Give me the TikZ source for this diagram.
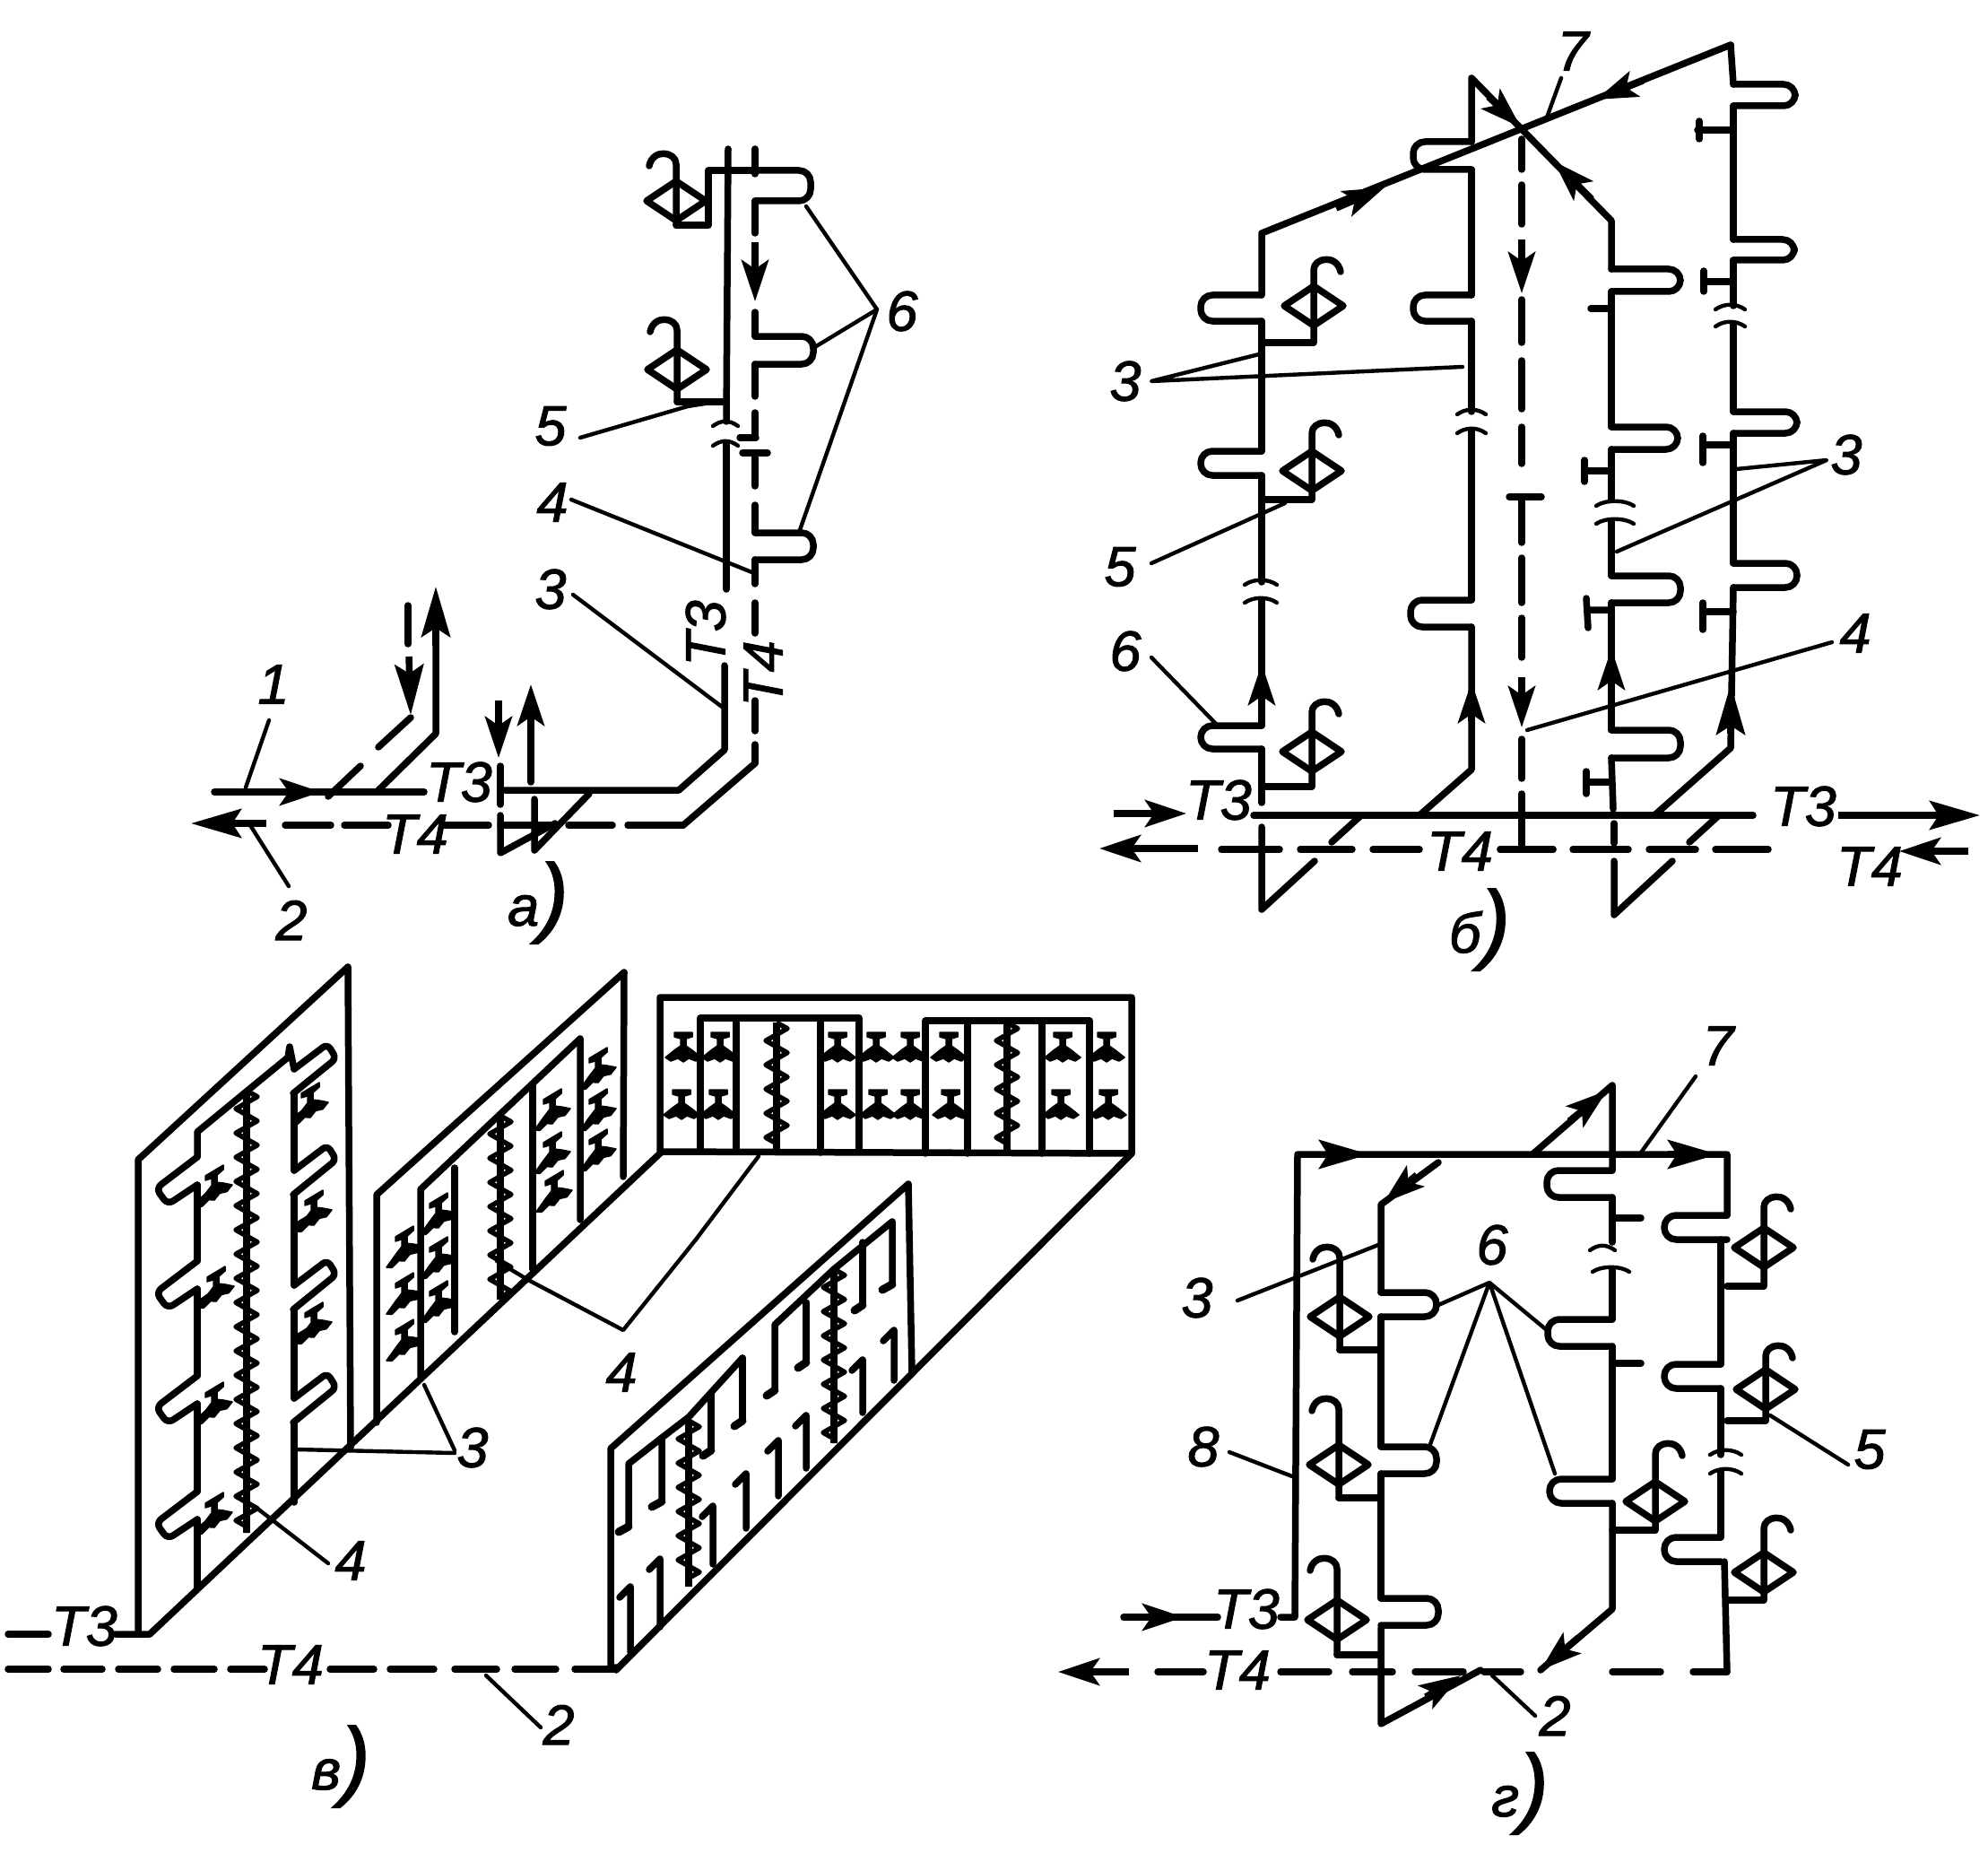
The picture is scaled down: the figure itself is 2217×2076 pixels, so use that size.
\documentclass[tikz,border=0pt]{standalone}
\usepackage{fontspec}
\setmainfont[ItalicFeatures={FakeBold=1.6}]{Liberation Sans}
\usetikzlibrary{arrows.meta,decorations.pathmorphing}
\newcommand\lb[3]{\node[lbl] (n-#1-#2) at (#1,#2) {#3};}
\newcommand\lbr[3]{\node[lbl,rotate=90] (n-#1-#2) at (#1,#2) {#3};}
\newcommand\figcap[3]{\node[lbl,anchor=base] (n-#1-#2) at (#1,#2) {#3{\fontsize{98}{98}\selectfont)}};}
\newcommand\hseg[2]{\foreach \a/\b in {#2} \draw[pipe] (\a,#1)--(\b,#1);}
\newcommand\vseg[2]{\foreach \a/\b in {#2} \draw[pipe] (#1,\a)--(#1,\b);}
\newcommand\rad[4]{\draw[pipe,rounded corners=13pt] (#1,#2)--(#4,#2)--(#4,#3)--(#1,#3);}
% valve: x, y, side of the hook, top, bottom
\newcommand\vlv[5]{\draw[pipe] (#1-33,#2)--(#1,#2-22)--(#1+33,#2)--(#1,#2+22)--cycle;
 \draw[pipe] (#1,#5)--(#1,#4+14) .. controls (#1,#4) and (#1+#3*26,#4-4) .. (#1+#3*30,#4+16);}
\newcommand\brkk[3]{\draw[lead] (#1,#3+3) .. controls (#1+10,#3-4) and (#2-10,#3-4) .. (#2,#3+3);}
\newcommand\tapp[3]{\fill[tapf,shift={(#1,#2)},yslant=#3] (-10,-18)--(10,-18)--(10,-13)--(3,-11)--(3,-3)--(10,2)--(20,10)--(14,14)--(6,11)--(0,15)--(-6,11)--(-14,14)--(-20,10)--(-10,2)--(-3,-3)--(-3,-11)--(-10,-13)--cycle;}
\newcommand\zigg[4]{\draw[line width=8pt] (#1,#2)--(#3,#4);
 \draw[line width=5.5pt,line join=round,decorate,decoration={zigzag,segment length=27pt,amplitude=12pt}] (#1,#2)--(#3,#4);}
\newcommand\radl[1]{\draw[pipe,rounded corners=7pt] (220,#1)--(174,#1+35)--(187,#1+53)--(220,#1+31);}
\newcommand\radr[1]{\draw[pipe,rounded corners=6pt] (328,#1)--(365,#1-28)--(375,#1-12)--(327,#1+27);}
\tikzset{
 pipe/.style={line width=7.5pt,line cap=round,line join=round},
 lead/.style={line width=4.4pt,line cap=round,line join=round},
 arr/.style={line width=7.5pt,-{Stealth[length=56pt,width=32pt,inset=10pt]}},
 arrs/.style={line width=7.5pt,-{Stealth[length=46pt,width=30pt,inset=10pt]}},
 lbl/.style={font=\fontsize{63}{63}\selectfont\itshape,inner sep=0pt},
 tapf/.style={fill=black,line join=round,draw=black,line width=1.5pt},
}
\begin{document}
\begin{tikzpicture}[x=1pt,y=-1pt]
\useasboundingbox (0,0) rectangle (2217,2076);
\fill[white] (0,0) rectangle (2217,2076);
% ---------- panel a
\draw[pipe] (239,883)--(473,883);
\draw[pipe] (563,881)--(757,881)--(808,836)--(808,742);
\draw[pipe] (810,657)--(810,495);
\draw[pipe] (810,470)--(812,166);
\brkk{795}{823}{472}\brkk{795}{823}{494}
\draw[arrs] (296,883)--(358,883);
\hseg{920}{762/700,683/634,619/558,545/496,433/384,369/318}
\draw[pipe] (842,851)--(762,920);
\draw[arr] (297,918)--(213,918);
\vseg{842}{166/194,224/260,348/375,406/442,460/488,509/542,563/594,624/651,672/706,781/815,830/851}
\draw[arrs] (842,270)--(842,336);
\draw[pipe] (828,505)--(856,505); \draw[pipe] (825,488)--(843,488);
\draw[pipe] (422,881)--(486,818)--(486,700);
\draw[arr] (486,720)--(486,654);
\draw[pipe] (366,888)--(402,854); \draw[pipe] (422,833)--(458,800);
\draw[pipe] (455,675)--(455,718);
\draw[arr] (456,732)--(458,797);
\draw[pipe] (558,854)--(558,897); \draw[pipe] (558,909)--(558,951)--(619,918);
\draw[arrs] (556,781)--(556,845);
\draw[pipe] (596,891)--(596,948)--(657,885);
\draw[pipe] (592,872)--(592,800);
\draw[arrs] (592,825)--(592,763);
\rad{842}{190}{224}{904}\rad{842}{375}{406}{907}\rad{842}{594}{624}{907}
\draw[pipe] (754,251)--(790,251)--(790,190)--(842,190);
\vlv{754}{224}{-1}{169}{251}
\vlv{755}{412}{-1}{354}{448}
\draw[pipe] (755,448)--(810,448);
\draw[lead] (647,488)--(767,453)--(805,447);
\draw[lead] (637,557)--(841,639);
\draw[lead] (639,663)--(805,788);
\draw[lead] (899,230)--(978,345)--(907,388);
\draw[lead] (978,345)--(892,591);
\draw[lead] (300,803)--(274,878);
\draw[lead] (279,920)--(322,988);
\lb{305}{763}{1}\lb{325}{1026}{2}\lb{614}{475}{5}\lb{616}{560}{4}\lb{614}{657}{3}\lb{1006}{347}{6}
\lb{512}{872}{Т3}\lb{463}{930}{Т4}
\lbr{787}{706}{Т3}\lbr{851}{751}{Т4}
\figcap{600}{1032}{а}
% ---------- panel b
\draw[pipe] (1398,909)--(1955,909);
\draw[arrs] (1242,907)--(1323,907);
\draw[arr] (2050,909)--(2208,909);
\draw[arrs] (1336,946)--(1226,946);
\draw[arrs] (2195,949)--(2118,949);
\hseg{947}{1362/1427,1450/1508,1531/1583,1673/1732,1754/1816,1839/1891,1913/1972}
% riser 1
\draw[pipe] (1407,922)--(1407,1014)--(1466,960); \draw[pipe] (1485,939)--(1518,909);
\draw[pipe] (1407,895)--(1407,835);\draw[pipe] (1407,809)--(1407,669);\draw[pipe] (1407,649)--(1407,530);\draw[pipe] (1407,503)--(1407,358);
\draw[pipe] (1407,329)--(1407,260)--(1930,50);
\rad{1407}{809}{835}{1339}\rad{1407}{503}{530}{1339}\rad{1407}{329}{358}{1339}
\brkk{1388}{1424}{649}\brkk{1388}{1424}{669}
\draw[arrs] (1407,790)--(1407,740);
\draw[arrs] (1490,232)--(1544,209);
\draw[arrs] (1832,90)--(1780,111);
% riser 2
\draw[pipe] (1583,909)--(1641,858)--(1641,699);\draw[pipe] (1641,669)--(1641,480);\draw[pipe] (1641,459)--(1641,358);\draw[pipe] (1641,329)--(1641,189);\draw[pipe] (1641,158)--(1641,87)--(1797,246)--(1797,300);
\rad{1641}{669}{699}{1573}\rad{1641}{329}{358}{1576}\rad{1641}{158}{189}{1576}
\brkk{1625}{1657}{459}\brkk{1625}{1657}{480}
\draw[arrs] (1641,804)--(1641,760);
\draw[arrs] (1660,108)--(1696,142);
\draw[arrs] (1775,222)--(1733,180);
% riser 3
\draw[pipe] (1797,325)--(1797,476);\draw[pipe] (1797,501)--(1797,557);\draw[pipe] (1797,581)--(1797,642);\draw[pipe] (1797,672)--(1797,814);\draw[pipe] (1797,845)--(1799,902);
\rad{1797}{300}{325}{1874}\rad{1797}{476}{501}{1871}\rad{1797}{642}{672}{1874}\rad{1797}{814}{845}{1874}
\brkk{1780}{1822}{561}\brkk{1780}{1822}{581}
\draw[arrs] (1797,775)--(1797,723);
\draw[pipe] (1800,918)--(1800,940);\draw[pipe] (1800,960)--(1800,1020)--(1865,960);\draw[pipe] (1884,939)--(1917,909);
\draw[pipe] (1774,344)--(1797,344);
\draw[pipe] (1797,525)--(1767,525)(1767,513)--(1767,537);
\draw[pipe] (1797,680)--(1770,680)(1769,667)--(1771,700);
\draw[pipe] (1797,872)--(1769,872)(1769,860)--(1769,885);
% riser 4
\draw[pipe] (1930,50)--(1933,94);\draw[pipe] (1933,118)--(1933,267);\draw[pipe] (1933,290)--(1933,341);\draw[pipe] (1933,361)--(1933,459);\draw[pipe] (1933,483)--(1933,628);\draw[pipe] (1933,655)--(1930,834)--(1845,909);
\rad{1933}{94}{118}{2002}\rad{1933}{267}{290}{2001}\rad{1933}{459}{483}{2004}\rad{1933}{628}{655}{2004}
\brkk{1913}{1946}{342}\brkk{1913}{1946}{361}
\draw[arr] (1930,818)--(1930,763);
\draw[pipe] (1893,145)--(1933,145)(1895,135)--(1895,155);
\draw[pipe] (1900,314)--(1933,314)(1900,302)--(1900,325);
\draw[pipe] (1899,496)--(1933,496)(1899,486)--(1899,516);
\draw[pipe] (1899,682)--(1933,682)(1899,672)--(1899,702);
% central
\vseg{1697}{155/189,206/250,334/382,402/456,476/517,554/605,622/672,689/733,824/868,885/947}
\draw[pipe] (1683,554)--(1719,554);
\draw[pipe] (1673,947)--(1732,947);
\draw[arrs] (1697,267)--(1697,327);
\draw[arrs] (1697,755)--(1697,811);
% valves
\vlv{1465}{341}{1}{287}{382}\draw[pipe] (1465,382)--(1407,382);
\vlv{1463}{525}{1}{469}{557}\draw[pipe] (1463,557)--(1407,557);
\vlv{1463}{838}{1}{780}{877}\draw[pipe] (1463,877)--(1407,877);
% leaders
\draw[lead] (1404,395)--(1284,425)--(1631,409);
\draw[lead] (1284,628)--(1433,561);
\draw[lead] (1284,733)--(1356,807);
\draw[lead] (1741,87)--(1725,131);
\draw[lead] (1936,523)--(2037,513)--(1803,615);
\draw[lead] (2043,716)--(1703,814);
\lb{1255}{425}{3}\lb{1249}{632}{5}\lb{1255}{726}{6}\lb{1754}{57}{7}\lb{2059}{507}{3}\lb{2069}{706}{4}
\lb{1359}{892}{Т3}\lb{1628}{949}{Т4}\lb{2011}{899}{Т3}\lb{2085}{966}{Т4}
\figcap{1650}{1062}{б}
% ---------- panel v: left wall
\draw[pipe] (154,1822)--(154,1293)--(388,1078)--(391,1614);
\draw[pipe] (129,1822)--(167,1822)--(737,1285);
\hseg{1822}{9/54}
\hseg{1861}{9/54,71/114,132/176,194/239,257/295,368/417,435/484,507/554,574/620,641/687}
\draw[pipe] (687,1862)--(1262,1286);
\radl{1663}\radl{1534}\radl{1406}\radl{1290}
\vseg{220}{1770/1694,1663/1565,1534/1437,1406/1321}
\draw[pipe] (220,1290)--(220,1262)--(321,1179)--(323,1167)--(328,1192);
\radr{1192}\radr{1305}\radr{1433}\radr{1559}
\vseg{328}{1219/1305,1332/1433,1460/1559,1586/1675}
\zigg{275}{1216}{275}{1709}
\foreach \x/\y in {239/1323,241/1436,239/1565,239/1688}{\draw[pipe] (224,\y+16)--(\x,\y+4);\tapp{\x}{\y}{0.6}}
\foreach \x/\y in {346/1231,350/1351,350/1476}{\draw[pipe] (330,\y+16)--(\x,\y+4);\tapp{\x}{\y}{0.6}}
\draw[lead] (507,1620)--(330,1616);
\draw[lead] (507,1617)--(473,1544);
\draw[lead] (286,1681)--(366,1743);
\draw[lead] (542,1868)--(603,1926);
\lb{527}{1614}{3}\lb{391}{1740}{4}\lb{623}{1923}{2}
\lb{94}{1813}{Т3}\lb{324}{1856}{Т4}
\figcap{380}{1995}{в}
% middle wall
\draw[pipe] (420,1586)--(420,1332)--(696,1084)--(695,1312);
\draw[pipe] (469,1534)--(469,1326)--(647,1158)--(647,1360);
\draw[pipe] (507,1485)--(507,1302);
\draw[pipe] (594,1415)--(594,1210);
\zigg{558}{1244}{558}{1449}
\foreach \x/\y in {451/1391,451/1443,451/1495,489/1354,489/1403,489/1452,616/1238,616/1286,618/1329,667/1192,667/1238,667/1283}{\tapp{\x}{\y}{0.6}}
\draw[lead] (554,1406)--(589,1427)--(695,1483)--(776,1382)--(846,1289);
\lb{693}{1530}{4}
% top wall
\draw[pipe] (736,1284)--(736,1112)--(1262,1112)--(1262,1286)--cycle;
\draw[pipe] (781,1284)--(781,1135)--(958,1135)--(958,1284);
\draw[pipe] (1032,1286)--(1032,1138)--(1215,1138)--(1215,1286);
\vseg{821}{1140/1284}\vseg{915}{1140/1285}\vseg{1079}{1140/1286}\vseg{1162}{1140/1286}
\zigg{866}{1140}{866}{1284}
\zigg{1123}{1140}{1123}{1286}
\foreach \x/\y in {762/1169,803/1169,934/1169,977/1169,1015/1169,1058/1169,1185/1169,1234/1169,760/1233,801/1233,934/1233,979/1233,1015/1233,1060/1233,1183/1233,1236/1233}{\tapp{\x}{\y}{0}}
% bottom wall
\draw[pipe] (687,1859)--(681,1859)--(681,1615)--(1013,1320)--(1017,1530);
\draw[pipe] (701,1702)--(701,1632)--(738,1603)--(738,1674);
\draw[pipe] (738,1603)--(768,1580)--(828,1514);
\draw[pipe] (864,1550)--(864,1477)--(930,1415)--(995,1362)--(995,1432);
\draw[pipe] (793,1553)--(793,1617);\draw[pipe] (828,1514)--(828,1584);
\draw[pipe] (899,1452)--(899,1519);\draw[pipe] (962,1385)--(962,1455);
\zigg{768}{1584}{768}{1769}
\zigg{930}{1415}{930}{1609}
\foreach \x/\a/\b in {701/1702/-11,738/1674/-11,793/1617/-9,828/1584/-9,864/1550/-9,899/1519/-9,962/1455/-9,995/1432/-11}{\draw[pipe,line width=9pt] (\x,\a)--(\x+\b,\a+6);}
\foreach \x/\a/\b in {703/1842/1769,736/1814/1738,795/1744/1679,832/1704/1643,868/1668/1606,899/1637/1578,962/1575/1516,997/1539/1483}{\draw[pipe] (\x,\a)--(\x,\b)--(\x-12,\b+12);}
% ---------- panel g
\draw[pipe] (1253,1803)--(1358,1803);
\draw[arrs] (1258,1803)--(1320,1803);
\draw[pipe] (1428,1803)--(1444,1803)--(1447,1287)--(1926,1287)--(1926,1355);
\draw[arr] (1860,1287)--(1916,1287);
\draw[arr] (1480,1287)--(1527,1287);
\rad{1926}{1355}{1382}{1856}
\draw[pipe] (1919,1382)--(1919,1521);
\rad{1919}{1521}{1548}{1856}
\draw[pipe] (1919,1548)--(1919,1622);
\brkk{1907}{1942}{1619}\brkk{1907}{1942}{1640}
\draw[pipe] (1919,1640)--(1919,1714);
\rad{1919}{1714}{1741}{1856}
\draw[pipe] (1923,1741)--(1926,1864);
\hseg{1864}{1926/1888,1852/1798,1696/1655,1632/1578,1553/1508,1482/1428,1342/1291}
\draw[arrs] (1760,1826)--(1718,1862);
\draw[arrs] (1259,1864)--(1180,1864);
\draw[pipe] (1540,1815)--(1540,1922)--(1651,1862);
\draw[arrs] (1590,1892)--(1629,1868);
\rad{1540}{1782}{1812}{1604}
\draw[pipe] (1540,1782)--(1540,1643);
\rad{1540}{1613}{1643}{1602}
\draw[pipe] (1540,1613)--(1540,1468);
\rad{1540}{1441}{1468}{1602}
\draw[pipe] (1540,1441)--(1540,1343)--(1604,1296);
\draw[arrs] (1580,1310)--(1543,1341);
\draw[pipe] (1709,1287)--(1798,1210)--(1798,1305);
\draw[arrs] (1750,1250)--(1792,1216);
\rad{1798}{1305}{1335}{1725}
\draw[pipe] (1798,1335)--(1798,1385);
\brkk{1773}{1801}{1391}\brkk{1776}{1817}{1415}
\draw[pipe] (1798,1415)--(1798,1471);
\rad{1798}{1471}{1501}{1726}
\draw[pipe] (1798,1501)--(1798,1649);
\rad{1798}{1649}{1676}{1728}
\draw[pipe] (1798,1676)--(1798,1794)--(1718,1862);
\draw[pipe] (1798,1358)--(1830,1358);
\draw[pipe] (1798,1520)--(1830,1520);
\vlv{1494}{1468}{-1}{1388}{1505}\draw[pipe] (1494,1505)--(1540,1505);
\vlv{1493}{1633}{-1}{1557}{1670}\draw[pipe] (1493,1670)--(1540,1670);
\vlv{1491}{1806}{-1}{1735}{1845}\draw[pipe] (1491,1845)--(1540,1845);
\vlv{1846}{1674}{1}{1607}{1706}\draw[pipe] (1846,1706)--(1798,1706);
\vlv{1967}{1391}{1}{1332}{1434}\draw[pipe] (1967,1434)--(1926,1434);
\vlv{1969}{1549}{1}{1498}{1584}\draw[pipe] (1969,1584)--(1926,1584);
\vlv{1967}{1753}{1}{1690}{1784}\draw[pipe] (1967,1784)--(1926,1784);
\draw[lead] (1380,1450)--(1537,1388);
\draw[lead] (1371,1619)--(1441,1646);
\draw[lead] (1604,1455)--(1661,1430)--(1594,1613);
\draw[lead] (1725,1483)--(1661,1430)--(1734,1643);
\draw[lead] (1891,1200)--(1830,1285);
\draw[lead] (1974,1578)--(2061,1633);
\draw[lead] (1664,1868)--(1712,1913);
\lb{1335}{1447}{3}\lb{1342}{1613}{8}\lb{1664}{1388}{6}\lb{1916}{1166}{7}\lb{2085}{1616}{5}\lb{1734}{1913}{2}
\lb{1390}{1794}{Т3}\lb{1380}{1862}{Т4}
\figcap{1695}{2025}{г}
\end{tikzpicture}
\end{document}
